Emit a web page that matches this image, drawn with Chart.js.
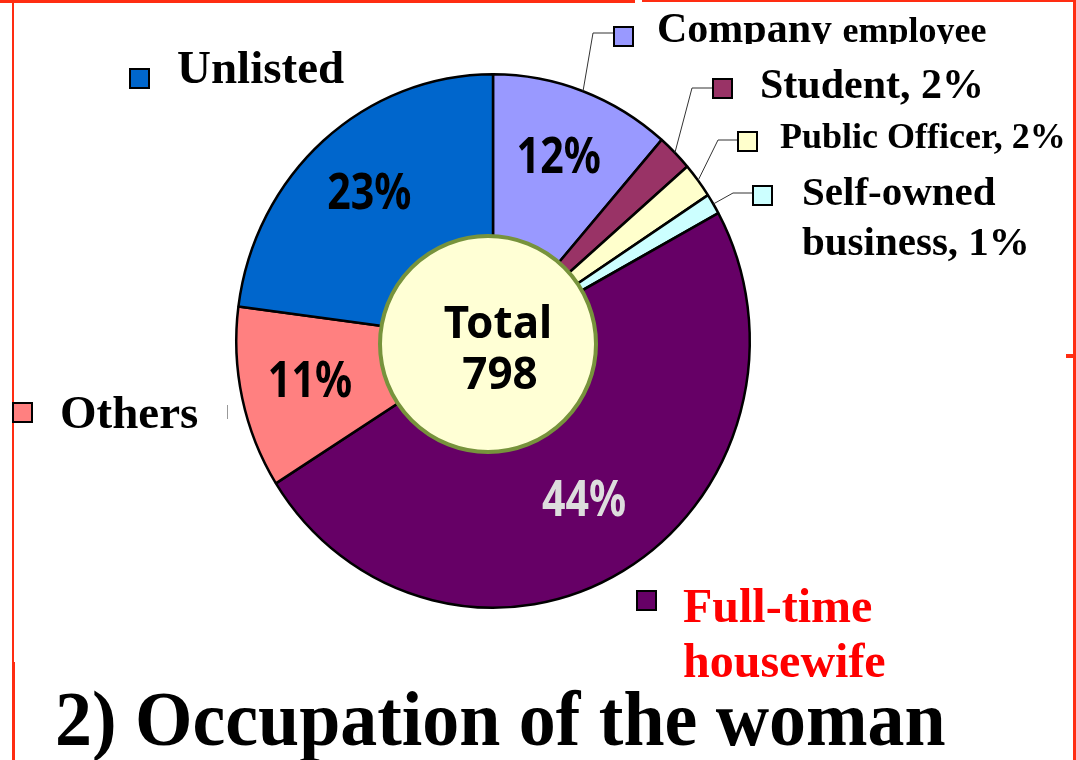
<!DOCTYPE html>
<html>
<head>
<meta charset="utf-8">
<script src="https://cdn.jsdelivr.net/npm/chart.js@4"></script>
<style>
  body { margin: 0; background: #fff; }
  canvas { display: block; }
</style>
</head>
<body>
<canvas id="micanvas" width="1076" height="760"></canvas>
<script>
// datos (orden: desde arriba en sentido horario)
let categorias = ['Company employee', 'Student', 'Public Officer', 'Self-owned business', 'Full-time housewife', 'Others', 'Unlisted']
let datos = [91, 18, 17, 10, 391, 88, 183]
let porcentajes = ['12%', '', '', '', '44%', '11%', '23%']
let etiquetas = [['Company', 'employee'], ['Student, 2%'], ['Public Officer, 2%'], ['Self-owned', 'business, 1%'], ['Full-time', 'housewife'], ['Others'], ['Unlisted']]
let total = 798
let titulo = '2) Occupation of the woman'

let colores = ['#9999ff', '#993366', '#ffffcc', '#ccffff', '#660066', '#ff8080', '#0066cc']

// donde va cada etiqueta (caja de color, texto, linea guia)
let cajas = [
  { x: 614, y: 27, tx: 657, ty: 42, size: 42, size2: 36, codo: [593, 33] },
  { x: 713, y: 79, tx: 760, ty: 98, size: 42, codo: [692, 88] },
  { x: 738, y: 132, tx: 780, ty: 148, size: 36, codo: [718, 140] },
  { x: 753, y: 186, tx: 802, ty: 205, size: 41, codo: [733, 193], lh: 50 },
  { x: 637, y: 591, tx: 683, ty: 622, size: 48, lh: 55, color: '#ff0000' },
  { x: 13, y: 403, tx: 60, ty: 428, size: 47 },
  { x: 130, y: 69, tx: 177, ty: 83, size: 47 }
]

// el pastel original esta un poco estirado en vertical
const estiroY = 1.039

const serif = 'bold {s}px "Liberation Serif", "Times New Roman", serif'
const sans = 'bold {s}px "Noto Sans", "Open Sans", sans-serif'
function f(plantilla, s) { return plantilla.replace('{s}', s) }

const decoracion = {
  id: 'decoracion',
  beforeDraw(chart) {
    const c = chart.ctx
    c.save()
    c.fillStyle = '#ff2d12'
    c.fillRect(0, 0, 635, 3)
    c.fillRect(642, 0, 434, 2)
    c.fillRect(12, 3, 2, 660)
    c.fillRect(12, 662, 3, 98)
    c.fillRect(1073, 0, 3, 760)
    c.fillRect(1066, 354, 8, 4)
    c.restore()
  },
  beforeDatasetsDraw(chart) {
    const a = chart.getDatasetMeta(0).data[0]
    const c = chart.ctx
    c.save()
    c.translate(a.x, a.y)
    c.scale(1, estiroY)
    c.translate(-a.x, -a.y)
  },
  afterDatasetsDraw(chart) {
    chart.ctx.restore()
  },
  afterDraw(chart) {
    const c = chart.ctx
    const arcos = chart.getDatasetMeta(0).data
    const cx = arcos[0].x, cy = arcos[0].y
    const punto = (a, ang, r) => [cx + r * Math.cos(ang), cy + r * estiroY * Math.sin(ang)]

    // porcentajes dentro de las porciones
    arcos.forEach((a, i) => {
      if (!porcentajes[i]) return
      const medio = (a.startAngle + a.endAngle) / 2
      const p = punto(a, medio, a.outerRadius * (i === 4 ? 0.70 : 0.73))
      c.save()
      c.translate(p[0], p[1])
      c.scale(0.84, 1.02)
      c.font = f(sans, 49)
      c.textAlign = 'center'
      c.textBaseline = 'middle'
      c.fillStyle = i === 4 ? '#dddddd' : '#000'
      c.fillText(porcentajes[i], 0, 0)
      c.restore()
    })

    // circulo del total
    c.save()
    c.beginPath()
    c.arc(cx - 5, cy + 3, 108, 0, Math.PI * 2)
    c.fillStyle = '#ffffd5'
    c.fill()
    c.lineWidth = 4
    c.strokeStyle = '#77933c'
    c.stroke()
    c.font = f(sans, 44)
    c.textAlign = 'center'
    c.fillStyle = '#000'
    c.fillText('Total', cx + 5, cy - 3)
    c.fillText(String(total), cx + 7, cy + 48)
    c.restore()

    // lineas guia, cajas y etiquetas
    arcos.forEach((a, i) => {
      const k = cajas[i]
      c.save()
      if (k.codo) {
        const medio = (a.startAngle + a.endAngle) / 2
        const p = punto(a, medio, a.outerRadius)
        c.beginPath()
        c.moveTo(p[0], p[1])
        c.lineTo(k.codo[0], k.codo[1])
        c.lineTo(k.x, k.codo[1])
        c.strokeStyle = '#333'
        c.lineWidth = 1
        c.stroke()
      }
      c.fillStyle = colores[i]
      c.fillRect(k.x, k.y, 19, 19)
      c.strokeStyle = '#000'
      c.lineWidth = 2
      c.strokeRect(k.x, k.y, 19, 19)

      c.fillStyle = k.color || '#000'
      c.textBaseline = 'alphabetic'
      if (k.size2) {
        // primera palabra mas grande, recortada abajo como en el original
        c.beginPath()
        c.rect(0, 0, 1076, 44)
        c.clip()
        c.font = f(serif, k.size)
        c.fillText(etiquetas[i][0], k.tx, k.ty)
        const w = c.measureText(etiquetas[i][0] + ' ').width
        c.font = f(serif, k.size2)
        c.fillText(etiquetas[i][1], k.tx + w, k.ty)
      } else {
        c.font = f(serif, k.size)
        etiquetas[i].forEach((t, j) => c.fillText(t, k.tx, k.ty + j * (k.lh || 0)))
      }
      c.restore()
    })

    // un trocito de guia de "Others"
    c.save()
    c.strokeStyle = '#999'
    c.lineWidth = 1
    c.beginPath()
    c.moveTo(227.5, 405)
    c.lineTo(227.5, 419)
    c.stroke()

    // titulo
    c.translate(55, 745)
    c.scale(0.985, 1.05)
    c.font = f(serif, 75)
    c.fillStyle = '#000'
    c.fillText(titulo, 0, 0)
    c.restore()
  }
}

let contexto = document.getElementById('micanvas').getContext('2d')
let opciones = {
  type: 'pie',
  data: {
    labels: categorias,
    datasets: [{
      data: datos,
      backgroundColor: colores,
      borderColor: '#000',
      borderWidth: 2.5
    }]
  },
  options: {
    responsive: false,
    animation: false,
    devicePixelRatio: 1,
    layout: { padding: { left: 235, right: 325, top: 83, bottom: 161 } },
    plugins: {
      legend: { display: false },
      tooltip: { enabled: false },
      title: { display: false }
    }
  },
  plugins: [decoracion]
}

let grafica = new Chart(contexto, opciones)
</script>
</body>
</html>
